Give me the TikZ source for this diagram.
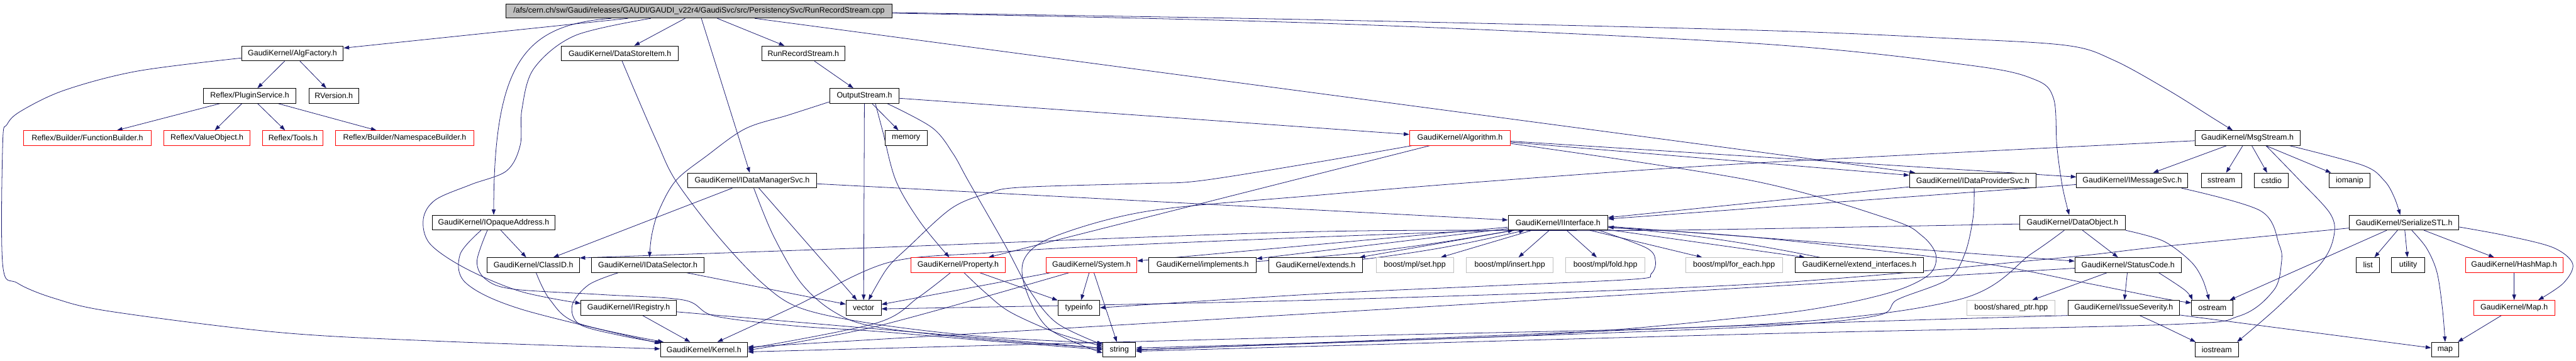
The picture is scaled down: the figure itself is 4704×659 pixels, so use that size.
\documentclass[tikz,border=0pt]{standalone}
\usepackage{fontspec}
\setmainfont{Liberation Sans}
\usetikzlibrary{arrows.meta}
\definecolor{edgec}{HTML}{191970}
\definecolor{topfill}{HTML}{BFBFBF}
\definecolor{grayline}{HTML}{BFBFBF}
\definecolor{redline}{HTML}{FF0000}
\pgfdeclarelayer{bg}
\pgfsetlayers{bg,main}
\begin{document}
\begin{tikzpicture}[x=1pt,y=-1pt,
  nbox/.style={draw=black, line width=1.1pt, fill=white, inner sep=0pt, minimum height=27pt, font=\fontsize{14.3pt}{17pt}\selectfont},
  rbox/.style={nbox, draw=redline},
  gbox/.style={nbox, draw=grayline},
  topbox/.style={nbox, fill=topfill, minimum height=26pt},
  dep/.style={draw=edgec, line width=0.9pt, -{Triangle[length=10pt,width=7pt]}, fill=none},
  sm/.style={smooth, tension=0.55}]
\path[use as bounding box] (0,0) rectangle (4704,659);

% ---------- nodes ----------
\node[topbox, minimum width=705pt] (T) at (1276.5,20) {/afs/cern.ch/sw/Gaudi/releases/GAUDI/GAUDI\_v22r4/GaudiSvc/src/PersistencySvc/RunRecordStream.cpp};
\node[nbox, minimum width=186pt] (AF) at (534,97.5) {GaudiKernel/AlgFactory.h};
\node[nbox, minimum width=168pt] (PS) at (456,175) {Reflex/PluginService.h};
\node[nbox, minimum width=91pt] (RV) at (609.5,175) {RVersion.h};
\node[rbox, minimum width=233pt] (FB) at (159.5,252) {Reflex/Builder/FunctionBuilder.h};
\node[rbox, minimum width=158pt] (VO) at (378,252) {Reflex/ValueObject.h};
\node[rbox, minimum width=110pt] (TL) at (535,252) {Reflex/Tools.h};
\node[rbox, minimum width=252pt] (NB) at (739,252) {Reflex/Builder/NamespaceBuilder.h};
\node[nbox, minimum width=214pt] (DSI) at (1132,97.5) {GaudiKernel/DataStoreItem.h};
\node[nbox, minimum width=152pt] (RRS) at (1467,97.5) {RunRecordStream.h};
\node[nbox, minimum width=127pt] (OS) at (1578.5,175) {OutputStream.h};
\node[nbox, minimum width=77pt] (MEM) at (1654.5,252) {memory};
\node[nbox, minimum width=235pt] (IDM) at (1373.5,329.5) {GaudiKernel/IDataManagerSvc.h};
\node[nbox, minimum width=225pt] (IOA) at (901.5,406.5) {GaudiKernel/IOpaqueAddress.h};
\node[nbox, minimum width=168pt] (CID) at (974,484) {GaudiKernel/ClassID.h};
\node[nbox, minimum width=206pt] (IDS) at (1183,484) {GaudiKernel/IDataSelector.h};
\node[nbox, minimum width=174pt] (IR) at (1148,562) {GaudiKernel/IRegistry.h};
\node[nbox, minimum width=159pt] (K) at (1285.5,638.5) {GaudiKernel/Kernel.h};
\node[nbox, minimum width=64pt] (V) at (1577,562) {vector};
\node[rbox, minimum width=173pt] (PR) at (1749.5,484) {GaudiKernel/Property.h};
\node[rbox, minimum width=166pt] (SYS) at (1993,484) {GaudiKernel/System.h};
\node[nbox, minimum width=196pt] (IMP) at (2196,484) {GaudiKernel/implements.h};
\node[nbox, minimum width=171pt] (EXT) at (2402.5,484) {GaudiKernel/extends.h};
\node[nbox, minimum width=76pt] (TI) at (1970,562) {typeinfo};
\node[nbox, minimum width=60pt] (S) at (2044,638.5) {string};
\node[rbox, minimum width=184pt] (ALG) at (2666,252) {GaudiKernel/Algorithm.h};
\node[nbox, minimum width=182pt] (II) at (2845,406.5) {GaudiKernel/IInterface.h};
\node[gbox, minimum width=141pt] (SET) at (2583.5,484) {boost/mpl/set.hpp};
\node[gbox, minimum width=158pt] (INS) at (2757,484) {boost/mpl/insert.hpp};
\node[gbox, minimum width=145pt] (FOLD) at (2931.5,484) {boost/mpl/fold.hpp};
\node[gbox, minimum width=177pt] (FE) at (3166.5,484) {boost/mpl/for\_each.hpp};
\node[nbox, minimum width=231pt] (IDP) at (3602.5,329.5) {GaudiKernel/IDataProviderSvc.h};
\node[nbox, minimum width=203pt] (IMS) at (3893.5,329.5) {GaudiKernel/IMessageSvc.h};
\node[nbox, minimum width=235pt] (EI) at (3395.5,484) {GaudiKernel/extend\_interfaces.h};
\node[nbox, minimum width=193pt] (DO) at (3784.5,406.5) {GaudiKernel/DataObject.h};
\node[nbox, minimum width=194pt] (SC) at (3886,484) {GaudiKernel/StatusCode.h};
\node[gbox, minimum width=161pt] (SP) at (3672.5,562) {boost/shared\_ptr.hpp};
\node[nbox, minimum width=204pt] (IS) at (3878,562) {GaudiKernel/IssueSeverity.h};
\node[nbox, minimum width=192pt] (MS) at (4104,252) {GaudiKernel/MsgStream.h};
\node[nbox, minimum width=73pt] (SST) at (4056.5,329.5) {sstream};
\node[nbox, minimum width=62pt] (CST) at (4148,329.5) {cstdio};
\node[nbox, minimum width=75pt] (IOM) at (4290.5,329.5) {iomanip};
\node[nbox, minimum width=200pt] (SS) at (4390,406.5) {GaudiKernel/SerializeSTL.h};
\node[nbox, minimum width=42pt] (LST) at (4324,484) {list};
\node[nbox, minimum width=61pt] (UT) at (4397.5,484) {utility};
\node[rbox, minimum width=178pt] (HM) at (4591,484) {GaudiKernel/HashMap.h};
\node[rbox, minimum width=148pt] (MP) at (4591,562) {GaudiKernel/Map.h};
\node[nbox, minimum width=76pt] (OST) at (4040,562) {ostream};
\node[nbox, minimum width=80pt] (IOS) at (4048,638.5) {iostream};
\node[nbox, minimum width=50pt] (MAP) at (4465,638.5) {map};

\begin{pgfonlayer}{bg}
% ---------- straight connectors ----------
\foreach \a/\b in {T/AF, T/DSI, T/IDM, T/RRS, T/IDP,
  AF/PS, AF/RV, PS/FB, PS/VO, PS/TL, PS/NB,
  RRS/OS, OS/ALG, OS/MEM, OS/V,
  IDM/CID, IDM/II, IDM/V,
  IOA/CID, IDS/V, IR/K, IR/S,
  PR/TI, SYS/V, SYS/TI, SYS/S,
  ALG/PR, ALG/IDP, ALG/IMS,
  II/SET, II/INS, II/FOLD, II/FE, II/SYS, II/SC, II/IMP, II/EXT, II/EI,
  IDP/II, IMS/II,
  MS/IMS, MS/SST, MS/CST, MS/IOM,
  SS/OST, SS/LST, SS/UT, SS/HM, HM/MP, MP/MAP,
  DO/SC, SC/SP, SC/IS, SC/K, IS/MAP}
  \draw[dep] (\a) -- (\b);
\draw[dep] (IMP) to[bend right=3] (II);
\draw[dep] (EXT) to[bend right=3] (II);
\draw[dep] (EI) to[bend right=3] (II);

% ---------- curved connectors ----------
\draw[dep] ([xshift=-160pt]T.south) .. controls (960,45) and (902,110) .. (IOA.north);
\draw[dep] plot[sm] coordinates {([xshift=-88pt]T.south) (1050,65) (975,125) (953,200) (950,265) (925,312) (860,337) (795,365) (773,400) (785,445) (850,490) (950,532) ([yshift=8pt]IR.west)};
\draw[dep] plot[sm] coordinates {([yshift=-4pt]T.east) (2400,42) (3200,79) (3595,119) (3715,145) (3750,180) (3756,267) (3766,340) ([xshift=-6pt]DO.north)};
\draw[dep] plot[sm] coordinates {([yshift=-3pt]T.east) (2400,36) (3200,55) (3560,70) (3774,83) (3860,110) (3960,165) (4040,215) ([xshift=-27pt]MS.north)};
\draw[dep] plot[sm] coordinates {([yshift=-8.5pt]AF.west) (250,130) (117,165) (38,203) (13,227) (5,260) (5,484) (32,517) (100,545) (204,569) (510,607) (800,623) ([yshift=1.5pt]K.west)};
\draw[dep] plot[sm] coordinates {([xshift=4pt]DSI.south) (1165,180) (1200,260) (1234,330) (1310,430) (1392,517) (1463,563) (1600,592) (1800,615) ([yshift=12pt]S.west)};
\draw[dep] plot[sm] coordinates {([xshift=41.5pt]OS.south) (1702,233) (1740,280) (1768,330) (1835,447) (1880,530) (1930,590) ([yshift=9pt]S.west)};
\draw[dep] plot[sm] coordinates {([yshift=-11pt]OS.west) (1440,210) (1361,235) (1290,285) (1234,330) (1203,385) (1190,430) ([xshift=3pt]IDS.north)};
\draw[dep] plot[sm] coordinates {([xshift=20pt]OS.south) (1612,240) (1636,330) (1680,405) ([xshift=-16pt]PR.north)};
\draw[dep] plot[sm] coordinates {([xshift=3pt]IDM.south) (1412,430) (1463,517) (1524,570) (1600,597) (1800,620) ([yshift=3pt]S.west)};
\draw[dep] plot[sm] coordinates {([xshift=-23pt]IOA.south) (840,465) (851,517) (953,565) ([yshift=11.5pt]K.west)};
\draw[dep] plot[sm] coordinates {([xshift=-11.5pt]IOA.south) (871,477) (887,510) (938,528) (1100,538) (1249,548) (1305,577) (1450,595) (1600,605) (1800,622) ([yshift=0pt]S.west)};
\draw[dep] plot[sm] coordinates {([xshift=5pt]CID.south) (1004,547) (1055,590) ([xshift=6pt]K.north west)};
\draw[dep] plot[sm] coordinates {([xshift=-54pt]IDS.south) (1075,520) (1045,557) (1058,592) (1130,612) ([xshift=3pt,yshift=-2pt]K.north west)};
\draw[dep] plot[sm] coordinates {([xshift=-14pt]PR.south) (1677,543) (1600,590) ([yshift=2pt]K.east)};
\draw[dep] plot[sm] coordinates {([xshift=-41pt]SYS.south) (1600,596) ([yshift=-1pt]K.east)};
\draw[dep] plot[sm] coordinates {([xshift=11pt]PR.south) (1800,535) (1845,570) (1930,608) ([yshift=6pt]S.west)};
\draw[dep] plot[sm] coordinates {([xshift=-88pt]ALG.south) (2400,297) (2192,330) (2090,335) (1865,342) (1804,353) (1738,380) (1660,450) (1620,490) ([xshift=9pt]V.north)};
\draw[dep] plot[sm] coordinates {([xshift=-91pt,yshift=-13.5pt]II.center) (2400,433) (2000,450) (1800,462) (1620,480) (1450,560) ([xshift=24.5pt]K.north)};
\draw[dep] plot[sm] coordinates {([yshift=-10pt]ALG.east) (3200,330) (3450,400) (3509,430) (3535,465) (3524,500) (3465,530) (3353,557) (3200,578) (2800,612) ([yshift=3pt]S.east)};
\draw[dep] plot[sm] coordinates {([yshift=-9pt]II.east) (3200,433) (3600,478) (3800,515) (3950,545) ([yshift=9pt]OST.west)};
\draw[dep] plot[sm] coordinates {([xshift=75pt]II.south) (3007,453) (3023,477) (3015,500) (2982,510) (2700,523) (2400,537) (TI.east)};
\draw[dep] plot[sm] coordinates {([xshift=2.5pt]IDP.south) (3603,397) (3588,463) (3557,510) (3465,547) (3424,577) (3200,597) (2600,620) (S.east)};
\draw[dep] plot[sm] coordinates {([xshift=90pt]IMS.south) (4128,385) (4162,447) (4166,480) (4152,530) (4089,577) (3950,593) (3200,610) ([yshift=-3pt]S.east)};
\draw[dep] plot[sm] coordinates {([xshift=34pt]MS.south) (4200,330) (4255,390) (4262,430) (4239,480) (4160,560) ([xshift=37pt]IOS.north)};
\draw[dep] plot[sm] coordinates {([xshift=77pt]MS.south) (4315,302) (4354,330) (4372,360) ([xshift=-7pt]SS.north)};
\draw[dep] plot[sm] coordinates {([yshift=-5pt]MS.west) (3200,298) (2731,330) (2400,357) (2100,385) (1930,430) (1872,470) (1872,525) (1915,600) ([yshift=-6pt]S.west)};
\draw[dep] plot[sm] coordinates {([xshift=14pt]SS.south) (4431,453) (4450,497) (4460,563) (MAP.north)};
\draw[dep] plot[sm] coordinates {([yshift=-8pt]SS.east) (4575,430) (4662,452) (4698,482) (4681,517) ([xshift=44pt]MP.north)};
\draw[dep] plot[sm] coordinates {([yshift=-10pt]SS.west) (3950,450) (3740,473) (3200,519) (2400,548) ([yshift=-2pt]V.east)};
\draw[dep] plot[sm] coordinates {([yshift=-2.5pt]DO.west) (3200,418) (2960,421) (2400,423) (1600,452) ([yshift=13pt]CID.east)};
\draw[dep] plot[sm] coordinates {([xshift=-15pt]DO.south) (3710,463) (3577,547) (3200,593) (2400,615) ([yshift=-4pt]K.east)};
\draw[dep] plot[sm] coordinates {(DO.south east) (3950,440) (4000,477) (4022,510) ([xshift=-6pt]OST.north)};
\draw[dep] plot[sm] coordinates {([xshift=56pt]SC.south) (3990,530) ([xshift=2pt]OST.north west)};
\draw[dep] plot[sm] coordinates {([xshift=29pt]IS.south) (3944,593) ([xshift=2pt]IOS.north west)};
\draw[dep] plot[sm] coordinates {(IS.south west) (3200,594) (2600,618) ([yshift=-1pt]S.east)};
\end{pgfonlayer}
\end{tikzpicture}
\end{document}
